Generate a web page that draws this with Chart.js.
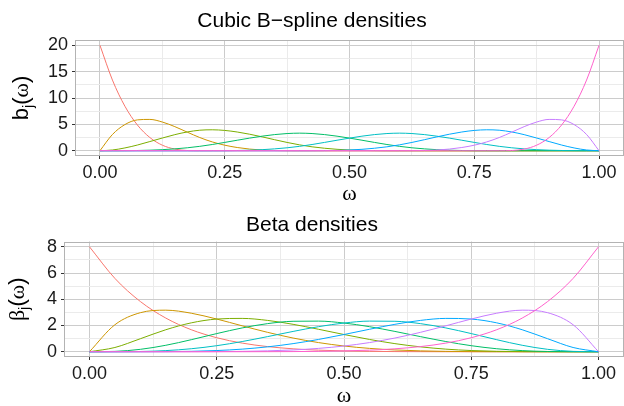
<!DOCTYPE html>
<html>
<head>
<meta charset="utf-8">
<script src="https://cdn.jsdelivr.net/npm/chart.js@4/dist/chart.umd.min.js"></script>
<style>
  html, body { margin: 0; padding: 0; background: #fff; overflow: hidden; }
  #wrap { position: relative; width: 624px; height: 406px; overflow: hidden; }
  .panel { position: absolute; left: 0; width: 624px; height: 206px; }
  #p1 { top: 0; }
  #p2 { top: 203px; }
</style>
</head>
<body>
<div id="wrap">
  <div class="panel" id="p1"><canvas id="splineChart"></canvas></div>
  <div class="panel" id="p2"><canvas id="betaChart"></canvas></div>
</div>
<script>
// ggplot hue palette, 8 groups
const seriesColors = ['#F8766D', '#CD9600', '#7CAE00', '#00BE67', '#00BFC4', '#00A9FF', '#C77CFF', '#FF61CC'];

// x ticks (shared by both panels)
const xMajor = [0, 0.25, 0.5, 0.75, 1];
const xMinor = [0.125, 0.375, 0.625, 0.875];

// --- cubic B-spline densities ---
const omegaSpline = [0, 0.025, 0.05, 0.075, 0.1, 0.125, 0.15, 0.175, 0.2, 0.225, 0.25, 0.275, 0.3, 0.325, 0.35, 0.375, 0.4,
  0.425, 0.45, 0.475, 0.5, 0.525, 0.55, 0.575, 0.6, 0.625, 0.65, 0.675, 0.7, 0.725, 0.75, 0.775, 0.8,
  0.825, 0.85, 0.875, 0.9, 0.925, 0.95, 0.975, 1];
const spline1 = [20, 13.4, 8.44, 4.88, 2.5, 1.05, 0.31, 0.04, 0,
  0, 0, 0, 0, 0, 0, 0, 0,
  0, 0, 0, 0, 0, 0, 0, 0,
  0, 0, 0, 0, 0, 0, 0, 0,
  0, 0, 0, 0, 0, 0, 0, 0];
const spline2 = [0, 3.08, 4.96, 5.85, 5.94, 5.44, 4.57, 3.52, 2.5,
  1.67, 1.05, 0.61, 0.31, 0.13, 0.04, 0.005, 0,
  0, 0, 0, 0, 0, 0, 0, 0,
  0, 0, 0, 0, 0, 0, 0, 0,
  0, 0, 0, 0, 0, 0, 0, 0];
const spline3 = [0, 0.14, 0.53, 1.08, 1.74, 2.41, 3.05, 3.56, 3.89,
  3.97, 3.85, 3.55, 3.13, 2.63, 2.09, 1.57, 1.11,
  0.74, 0.47, 0.27, 0.14, 0.06, 0.02, 0.002, 0,
  0, 0, 0, 0, 0, 0, 0, 0,
  0, 0, 0, 0, 0, 0, 0, 0];
const spline4 = [0, 0.002, 0.013, 0.044, 0.104, 0.203, 0.352, 0.558, 0.833,
  1.18, 1.576, 1.991, 2.396, 2.762, 3.06, 3.26, 3.333,
  3.26, 3.06, 2.762, 2.396, 1.991, 1.576, 1.18, 0.833,
  0.558, 0.352, 0.203, 0.104, 0.044, 0.013, 0.002, 0,
  0, 0, 0, 0, 0, 0, 0, 0];
const spline5 = [0, 0, 0, 0, 0, 0, 0, 0,
  0, 0.002, 0.013, 0.044, 0.104, 0.203, 0.352, 0.558,
  0.833, 1.18, 1.576, 1.991, 2.396, 2.762, 3.06, 3.26,
  3.333, 3.26, 3.06, 2.762, 2.396, 1.991, 1.576, 1.18,
  0.833, 0.558, 0.352, 0.203, 0.104, 0.044, 0.013, 0.002, 0];
const spline6 = [0, 0, 0, 0, 0, 0, 0, 0,
  0, 0, 0, 0, 0, 0, 0, 0,
  0, 0.002, 0.02, 0.06, 0.14, 0.27, 0.47, 0.74,
  1.11, 1.57, 2.09, 2.63, 3.13, 3.55, 3.85, 3.97,
  3.89, 3.56, 3.05, 2.41, 1.74, 1.08, 0.53, 0.14, 0];
const spline7 = [0, 0, 0, 0, 0, 0, 0, 0,
  0, 0, 0, 0, 0, 0, 0, 0,
  0, 0, 0, 0, 0, 0, 0, 0,
  0, 0.005, 0.04, 0.13, 0.31, 0.61, 1.05, 1.67,
  2.5, 3.52, 4.57, 5.44, 5.94, 5.85, 4.96, 3.08, 0];
const spline8 = [0, 0, 0, 0, 0, 0, 0, 0,
  0, 0, 0, 0, 0, 0, 0, 0,
  0, 0, 0, 0, 0, 0, 0, 0,
  0, 0, 0, 0, 0, 0, 0, 0,
  0, 0.04, 0.31, 1.05, 2.5, 4.88, 8.44, 13.4, 20];
const splineYMajor = [0, 5, 10, 15, 20];
const splineYMinor = [2.5, 7.5, 12.5, 17.5];

// --- Beta densities (bottom panel) ---
const omegaBeta = [0, 0.05, 0.1, 0.15, 0.2, 0.25, 0.3, 0.35, 0.4, 0.45, 0.5,
  0.55, 0.6, 0.65, 0.7, 0.75, 0.8, 0.85, 0.9, 0.95, 1];
const beta1 = [8, 5.587, 3.826, 2.565, 1.678, 1.068, 0.659, 0.392, 0.224, 0.122, 0.0625,
  0.03, 0.013, 0.005, 0.002, 0.0005, 0.0001, 0, 0, 0, 0];
const beta2 = [0, 2.058, 2.976, 3.168, 2.936, 2.492, 1.976, 1.478, 1.045, 0.698, 0.4375,
  0.256, 0.138, 0.067, 0.029, 0.01, 0.003, 0.0005, 0.0001, 0, 0];
const beta3 = [0, 0.325, 0.992, 1.677, 2.202, 2.492, 2.541, 2.388, 2.09, 1.712, 1.3125,
  0.938, 0.619, 0.373, 0.2, 0.092, 0.034, 0.009, 0.0014, 0.0001, 0];
const beta4 = [0, 0.029, 0.184, 0.493, 0.918, 1.384, 1.815, 2.143, 2.322, 2.335, 2.1875,
  1.91, 1.548, 1.154, 0.778, 0.461, 0.229, 0.087, 0.02, 0.0015, 0];
const beta5 = [0, 0.0015, 0.02, 0.087, 0.229, 0.461, 0.778, 1.154, 1.548, 1.91, 2.1875,
  2.335, 2.322, 2.143, 1.815, 1.384, 0.918, 0.493, 0.184, 0.029, 0];
const beta6 = [0, 0.0001, 0.0014, 0.009, 0.034, 0.092, 0.2, 0.373, 0.619, 0.938, 1.3125,
  1.712, 2.09, 2.388, 2.541, 2.492, 2.202, 1.677, 0.992, 0.325, 0];
const beta7 = [0, 0, 0.0001, 0.0005, 0.003, 0.01, 0.029, 0.067, 0.138, 0.256, 0.4375,
  0.698, 1.045, 1.478, 1.976, 2.492, 2.936, 3.168, 2.976, 2.058, 0];
const beta8 = [0, 0, 0, 0, 0.0001, 0.0005, 0.002, 0.005, 0.013, 0.03, 0.0625,
  0.122, 0.224, 0.392, 0.659, 1.068, 1.678, 2.565, 3.826, 5.587, 8];
const betaYMajor = [0, 2, 4, 6, 8];
const betaYMinor = [1, 3, 5, 7];

Chart.defaults.font.family = '"Liberation Sans", Arial, sans-serif';

const SANS = '"Liberation Sans", Arial, sans-serif';
const SERIF = '"Liberation Serif", "Times New Roman", serif';

// rotated y-axis labels with a subscript j
const yLabels = {
  splineChart: [
    { text: 'b', font: '22px ' + SANS },
    { text: 'j', font: '15px ' + SANS, dy: 5 },
    { text: '(', font: '22px ' + SANS },
    { text: 'ω', font: '22px ' + SERIF },
    { text: ')', font: '22px ' + SANS }
  ],
  betaChart: [
    { text: 'β', font: '22px ' + SERIF },
    { text: 'j', font: '15px ' + SANS, dy: 5 },
    { text: '(', font: '22px ' + SANS },
    { text: 'ω', font: '22px ' + SERIF },
    { text: ')', font: '22px ' + SANS }
  ]
};

// panel border + y label
const panelFrame = {
  id: 'panelFrame',
  afterDraw(chart, args, opts) {
    const { ctx, chartArea: a } = chart;
    ctx.save();
    ctx.strokeStyle = '#b3b3b3';
    ctx.lineWidth = 1;
    const l = Math.round(a.left) + 0.5, t = Math.round(a.top) + 0.5;
    const r = Math.round(a.right) - 0.5, b = Math.round(a.bottom) - 0.5;
    ctx.strokeRect(l, t, r - l, b - t);

    const parts = yLabels[chart.canvas.id];
    const widths = parts.map(p => { ctx.font = p.font; return ctx.measureText(p.text).width; });
    const total = widths.reduce((s, w) => s + w, 0);
    ctx.translate(opts.x, (a.top + a.bottom) / 2);
    ctx.rotate(-Math.PI / 2);
    ctx.fillStyle = '#000';
    ctx.textAlign = 'left';
    ctx.textBaseline = 'alphabetic';
    let cx = -total / 2;
    parts.forEach((p, i) => {
      ctx.font = p.font;
      ctx.fillText(p.text, cx, 6 + (p.dy || 0));
      cx += widths[i];
    });
    ctx.restore();
  }
};

function makePanel(id, cfg) {
  const isMajorX = v => xMajor.includes(v);
  const isMajorY = v => cfg.yMajor.includes(v);
  const tickFont = { family: SANS, size: 18 };

  return new Chart(document.getElementById(id), {
    type: 'line',
    data: {
      datasets: cfg.series.map((vals, i) => ({
        label: 'j = ' + (i + 1),
        data: cfg.omega.map((w, k) => ({ x: w, y: vals[k] })),
        borderColor: seriesColors[i],
        borderWidth: 1,
        pointRadius: 0,
        fill: false,
        cubicInterpolationMode: 'monotone',
        order: cfg.series.length - i
      }))
    },
    options: {
      responsive: true,
      maintainAspectRatio: false,
      animation: false,
      devicePixelRatio: 1,
      layout: { padding: 0 },
      plugins: {
        legend: { display: false },
        tooltip: { enabled: false },
        title: {
          display: true,
          text: cfg.title,
          color: '#000',
          font: { family: SANS, size: 21, weight: 'normal', lineHeight: 1.2 },
          padding: cfg.titlePad
        },
        panelFrame: { x: cfg.yLabelX }
      },
      scales: {
        x: {
          type: 'linear',
          min: -0.05, max: 1.05,
          afterBuildTicks: s => { s.ticks = xMajor.concat(xMinor).sort((p, q) => p - q).map(v => ({ value: v })); },
          afterFit: s => { s.height = cfg.xHeight; },
          border: { display: false },
          grid: {
            color: c => isMajorX(c.tick.value) ? '#cccccc' : '#ebebeb',
            lineWidth: 1,
            tickLength: 3,
            tickColor: c => isMajorX(c.tick.value) ? '#333333' : 'rgba(0,0,0,0)'
          },
          ticks: {
            autoSkip: false, maxRotation: 0, padding: 3, color: '#1a1a1a', font: tickFont,
            callback: v => isMajorX(v) ? v.toFixed(2) : ''
          },
          title: {
            display: true, text: 'ω', color: '#000',
            font: { family: SERIF, size: 22, lineHeight: 1 },
            padding: { top: 0, bottom: cfg.xTitlePad }
          }
        },
        y: {
          type: 'linear',
          min: cfg.yMin, max: cfg.yMax,
          afterBuildTicks: s => { s.ticks = cfg.yMajor.concat(cfg.yMinor).sort((p, q) => p - q).map(v => ({ value: v })); },
          afterFit: s => { s.width = cfg.yWidth; },
          border: { display: false },
          grid: {
            color: c => isMajorY(c.tick.value) ? '#cccccc' : '#ebebeb',
            lineWidth: 1,
            tickLength: 3,
            tickColor: c => isMajorY(c.tick.value) ? '#333333' : 'rgba(0,0,0,0)'
          },
          ticks: {
            autoSkip: false, padding: 4, color: '#1a1a1a', font: tickFont,
            callback: v => isMajorY(v) ? String(v) : ''
          }
        }
      }
    },
    plugins: [panelFrame]
  });
}

makePanel('splineChart', {
  title: 'Cubic B\u2212spline densities',
  omega: omegaSpline,
  series: [spline1, spline2, spline3, spline4, spline5, spline6, spline7, spline8],
  yMajor: splineYMajor, yMinor: splineYMinor,
  yMin: -1, yMax: 21,
  titlePad: { top: 9, bottom: 5.8 },
  xHeight: 50, xTitlePad: 0.5,
  yWidth: 75, yLabelX: 22
});

makePanel('betaChart', {
  title: 'Beta densities',
  omega: omegaBeta,
  series: [beta1, beta2, beta3, beta4, beta5, beta6, beta7, beta8],
  yMajor: betaYMajor, yMinor: betaYMinor,
  yMin: -0.4, yMax: 8.4,
  titlePad: { top: 9.5, bottom: 3.8 },
  xHeight: 52, xTitlePad: 1.7,
  yWidth: 64, yLabelX: 18
});
</script>
</body>
</html>
